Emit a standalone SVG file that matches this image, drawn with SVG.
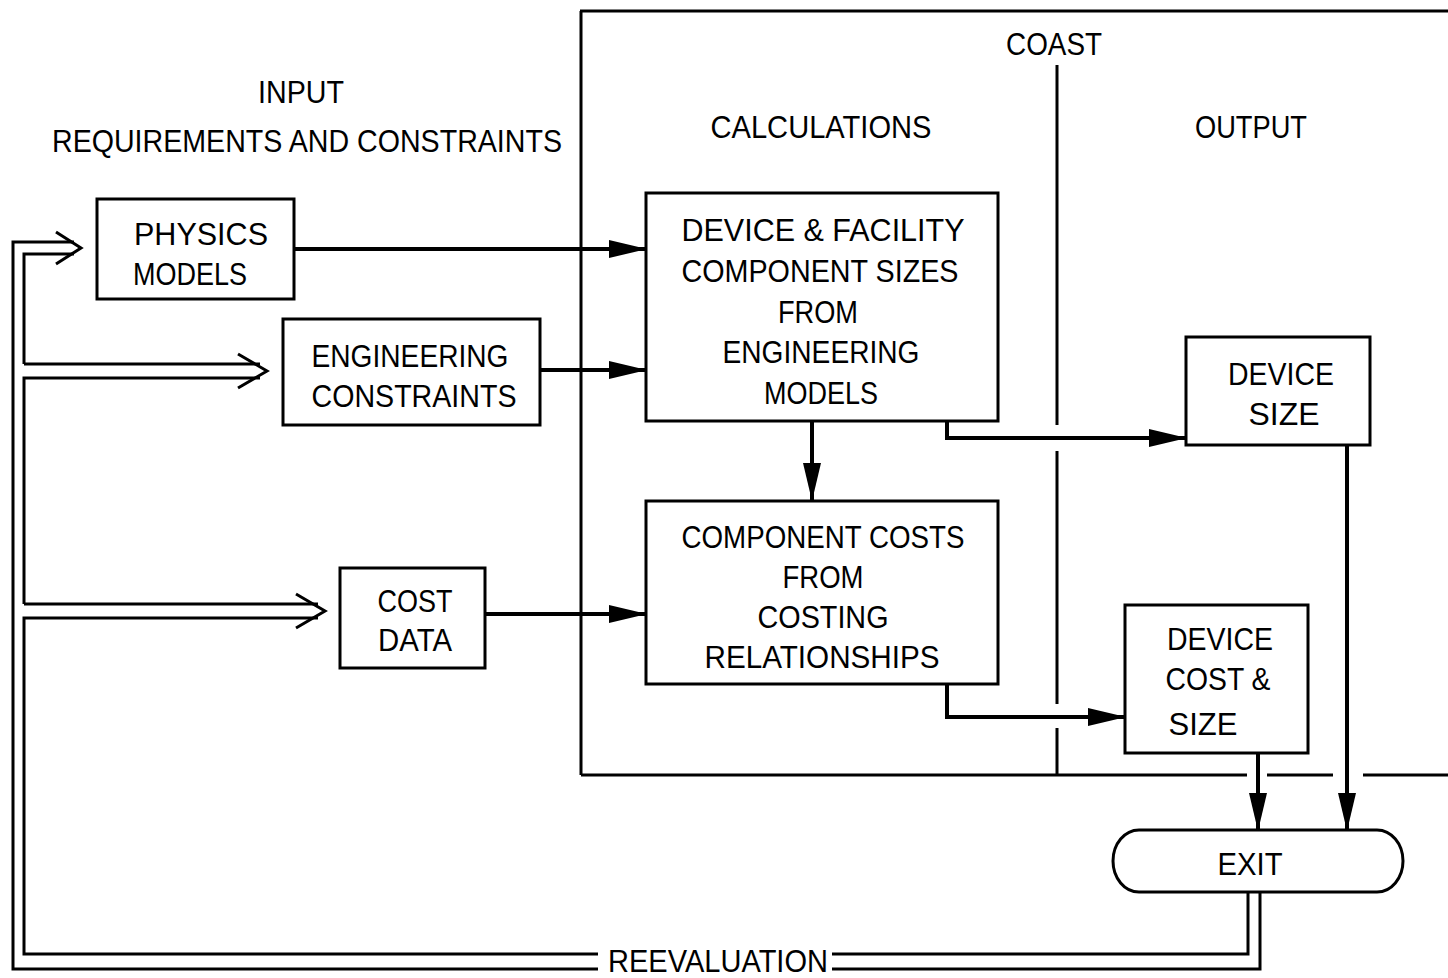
<svg xmlns="http://www.w3.org/2000/svg" width="1448" height="978" viewBox="0 0 1448 978">
<style>
  .bg { fill: #ffffff; }
  .box { fill: #ffffff; stroke: #000; stroke-width: 3; }
  .ln { fill: none; stroke: #000; stroke-width: 3; }
  .dbl { fill: none; stroke: #000; stroke-width: 3; stroke-linejoin: miter; }
  .arr { fill: none; stroke: #000; stroke-width: 4; marker-end: url(#ah); }
  text { font-family: "Liberation Sans", Arial, sans-serif; fill: #000; text-anchor: middle; }
  .t { font-size: 32px; }
  .h { font-size: 32px; }
</style>
<defs>
  <marker id="ah" markerUnits="userSpaceOnUse" markerWidth="38" markerHeight="20" viewBox="0 0 38 20" refX="37" refY="10" orient="auto">
    <path d="M0,1 L38,10 L0,19 z" fill="#000"/>
  </marker>
</defs>
<rect class="bg" x="0" y="0" width="1448" height="978"/>

<g id="frame">
  <path class="ln" d="M580 11 H1448 M581 11 V775 M581 775 H1247 M1267 775 H1333 M1363 775 H1448"/>
  <path class="ln" d="M1057 65 V425 M1057 451 V704 M1057 728 V775"/>
</g>

<g id="headers">
  <text class="h" x="301" y="103" textLength="86" lengthAdjust="spacingAndGlyphs">INPUT</text>
  <text class="h" x="307" y="152" textLength="510" lengthAdjust="spacingAndGlyphs">REQUIREMENTS AND CONSTRAINTS</text>
  <text class="h" x="1054" y="55" textLength="96" lengthAdjust="spacingAndGlyphs">COAST</text>
  <text class="h" x="821" y="138" textLength="221" lengthAdjust="spacingAndGlyphs">CALCULATIONS</text>
  <text class="h" x="1251" y="138" textLength="112" lengthAdjust="spacingAndGlyphs">OUTPUT</text>
</g>

<g id="physics">
  <rect class="box" x="97" y="199" width="197" height="100"/>
  <text class="t" x="201" y="245" textLength="134" lengthAdjust="spacingAndGlyphs">PHYSICS</text>
  <text class="t" x="190" y="285" textLength="114" lengthAdjust="spacingAndGlyphs">MODELS</text>
</g>

<g id="engineering">
  <rect class="box" x="283" y="319" width="257" height="106"/>
  <text class="t" x="410" y="367" textLength="197" lengthAdjust="spacingAndGlyphs">ENGINEERING</text>
  <text class="t" x="414" y="407" textLength="205" lengthAdjust="spacingAndGlyphs">CONSTRAINTS</text>
</g>

<g id="costdata">
  <rect class="box" x="340" y="568" width="145" height="100"/>
  <text class="t" x="415" y="612" textLength="75" lengthAdjust="spacingAndGlyphs">COST</text>
  <text class="t" x="415" y="651" textLength="74" lengthAdjust="spacingAndGlyphs">DATA</text>
</g>

<g id="sizes">
  <rect class="box" x="646" y="193" width="352" height="228"/>
  <text class="t" x="823" y="241" textLength="283" lengthAdjust="spacingAndGlyphs">DEVICE &amp; FACILITY</text>
  <text class="t" x="820" y="282" textLength="277" lengthAdjust="spacingAndGlyphs">COMPONENT SIZES</text>
  <text class="t" x="818" y="323" textLength="80" lengthAdjust="spacingAndGlyphs">FROM</text>
  <text class="t" x="821" y="363" textLength="197" lengthAdjust="spacingAndGlyphs">ENGINEERING</text>
  <text class="t" x="821" y="404" textLength="114" lengthAdjust="spacingAndGlyphs">MODELS</text>
</g>

<g id="costs">
  <rect class="box" x="646" y="501" width="352" height="183"/>
  <text class="t" x="823" y="548" textLength="283" lengthAdjust="spacingAndGlyphs">COMPONENT COSTS</text>
  <text class="t" x="823" y="588" textLength="81" lengthAdjust="spacingAndGlyphs">FROM</text>
  <text class="t" x="823" y="628" textLength="131" lengthAdjust="spacingAndGlyphs">COSTING</text>
  <text class="t" x="822" y="668" textLength="235" lengthAdjust="spacingAndGlyphs">RELATIONSHIPS</text>
</g>

<g id="devsize">
  <rect class="box" x="1186" y="337" width="184" height="108"/>
  <text class="t" x="1281" y="385" textLength="106" lengthAdjust="spacingAndGlyphs">DEVICE</text>
  <text class="t" x="1284" y="425" textLength="71" lengthAdjust="spacingAndGlyphs">SIZE</text>
</g>

<g id="devcost">
  <rect class="box" x="1125" y="605" width="183" height="148"/>
  <text class="t" x="1220" y="650" textLength="106" lengthAdjust="spacingAndGlyphs">DEVICE</text>
  <text class="t" x="1218" y="690" textLength="105" lengthAdjust="spacingAndGlyphs">COST &amp;</text>
  <text class="t" x="1203" y="735" textLength="69" lengthAdjust="spacingAndGlyphs">SIZE</text>
</g>

<g id="exit">
  <rect class="box" x="1113" y="830" width="290" height="62" rx="26" ry="31"/>
  <text class="t" x="1250" y="875" textLength="65" lengthAdjust="spacingAndGlyphs">EXIT</text>
</g>

<g id="reeval">
  <text class="t" x="718" y="972" textLength="220" lengthAdjust="spacingAndGlyphs" font-size="29">REEVALUATION</text>
</g>

<g id="connectors">
  <path class="arr" d="M294 249 H646"/>
  <path class="arr" d="M540 370 H646"/>
  <path class="arr" d="M485 614 H646"/>
  <path class="arr" d="M812 421 V500"/>
  <path class="arr" d="M947 421 V438 H1186"/>
  <path class="arr" d="M947 684 V717 H1125"/>
  <path class="arr" d="M1347 445 V830"/>
  <path class="arr" d="M1258 753 V830"/>
  <path class="dbl" d="M1260 892 V969 H832 M598 969 H13 V242 H74"/>
  <path class="dbl" d="M1248 892 V954 H832 M598 954 H24 V618 H318 M24 604 V378 H260 M24 364 V254 H74 M24 604 H318 M24 364 H260"/>
  <path class="dbl" d="M56 232 L81 248 L56 264"/>
  <path class="dbl" d="M238 354 L267 371 L238 388"/>
  <path class="dbl" d="M296 594 L325 611 L296 628"/>
</g>
</svg>
